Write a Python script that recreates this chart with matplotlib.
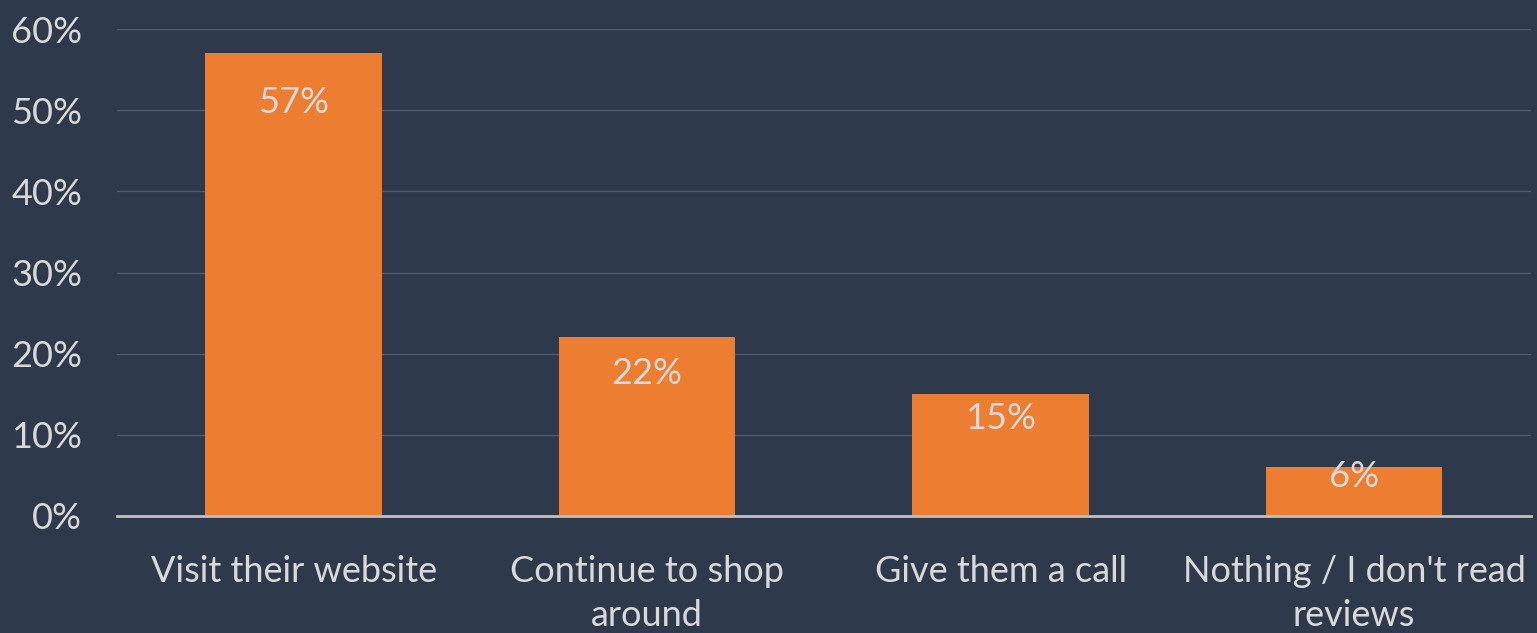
import matplotlib
matplotlib.use('Agg')
import matplotlib.pyplot as plt
from matplotlib.ticker import FuncFormatter

# data
categories = ['Visit their website', 'Continue to shop\naround', 'Give them a call', "Nothing / I don't read\nreviews"]
values = [57, 22, 15, 6]
yticks = [0, 10, 20, 30, 40, 50, 60]

bg = '#2E3A4B'
orange = '#ED7D31'
txt = '#D9D9D9'

plt.rcParams['font.family'] = ['Lato', 'DejaVu Sans']

fig = plt.figure(figsize=(15.37, 6.33), dpi=100, facecolor=bg)
ax = fig.add_axes([0.076, 0.185, 0.920, 0.769])
ax.set_facecolor(bg)

x = range(len(categories))
ax.bar(x, values, width=0.5, color=orange, zorder=3)

# labels inside the bar ends
for i, v in enumerate(values):
    ax.text(i, max(v - 6.0, v * 0.80), f'{v}%', ha='center', va='center',
            color=txt, fontsize=26, zorder=4)

ax.set_xlim(-0.5, len(categories) - 0.5)
ax.set_ylim(0, 60)
ax.set_yticks(yticks)
ax.yaxis.set_major_formatter(FuncFormatter(lambda v, p: f'{int(v)}%'))
ax.set_xticks(list(x))
ax.set_xticklabels(categories, linespacing=1.42)

ax.grid(axis='y', color='#4F5A6A', linewidth=1, zorder=0)
ax.tick_params(axis='y', length=0, pad=25, labelsize=26, labelcolor=txt)
ax.tick_params(axis='x', length=0, pad=28, labelsize=26, labelcolor=txt)
for s in ['top', 'right', 'left']:
    ax.spines[s].set_visible(False)
ax.spines['bottom'].set_color('#BFBFBF')
ax.spines['bottom'].set_linewidth(2)
ax.spines['bottom'].set_zorder(5)

fig.savefig('out.png', dpi=100, facecolor=bg)
